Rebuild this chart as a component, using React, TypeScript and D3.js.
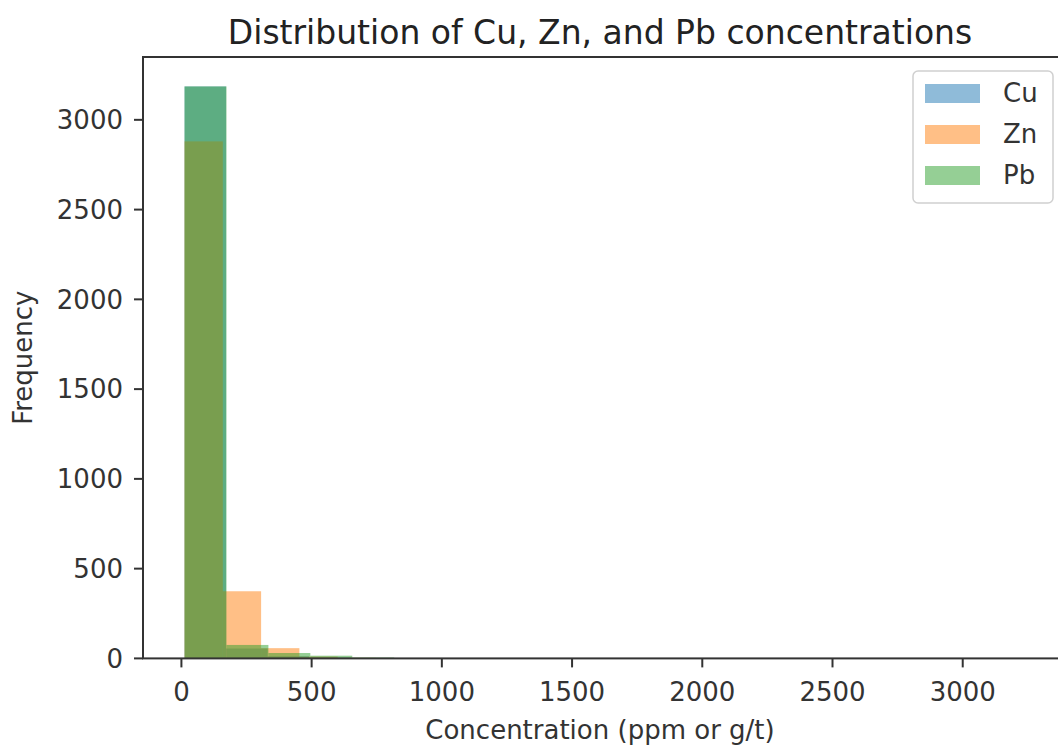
import React, { useRef, useEffect } from "react";
import * as d3 from "d3";

const width = 1058;
const height = 747;
const margin = { left: 143, right: 1057, top: 57, bottom: 658.4 };

// histogram bins: first edge, bin width, counts
const series = ["Cu", "Zn", "Pb"];
const colors = ["#1f77b4", "#ff7f0e", "#2ca02c"];
const binStart = [12, 12, 12];
const binWidth = [159.5, 147, 161];
const cuCounts = [3186, 55, 12, 4, 2, 1];
const znCounts = [2880, 374, 57, 10, 3, 1];
const pbCounts = [3186, 75, 30, 15, 5, 2, 1];
const counts = [cuCounts, znCounts, pbCounts];

const xTicks = [0, 500, 1000, 1500, 2000, 2500, 3000];
const yTicks = [0, 500, 1000, 1500, 2000, 2500, 3000];
const xDomain = [-147.5, 3362];
const yDomain = [0, 3350];

const font = "'DejaVu Sans', sans-serif";

export default function App() {
  const svgRef = useRef<SVGSVGElement>(null);

  useEffect(() => {
    const svg = d3.select(svgRef.current);
    svg.selectAll("*").remove();

    const x = d3.scaleLinear().domain(xDomain).range([margin.left, margin.right]);
    const y = d3.scaleLinear().domain(yDomain).range([margin.bottom, margin.top]);

    svg.append("rect").attr("width", width).attr("height", height).attr("fill", "#fff");

    // bars, drawn in matplotlib's order with alpha 0.5
    series.forEach((name, i) => {
      const bins = counts[i].map((c, j) => ({
        x0: binStart[i] + j * binWidth[i],
        x1: binStart[i] + (j + 1) * binWidth[i],
        c
      }));
      svg
        .append("g")
        .selectAll("rect")
        .data(bins)
        .enter()
        .append("rect")
        .attr("x", d => x(d.x0))
        .attr("width", d => x(d.x1) - x(d.x0))
        .attr("y", d => y(d.c))
        .attr("height", d => y(0) - y(d.c))
        .attr("fill", colors[i])
        .attr("fill-opacity", 0.5);
    });

    // spines (the right one falls just outside the cropped picture)
    svg
      .append("rect")
      .attr("x", margin.left)
      .attr("y", margin.top)
      .attr("width", margin.right + 4 - margin.left)
      .attr("height", margin.bottom - margin.top)
      .attr("fill", "none")
      .attr("stroke", "#333")
      .attr("stroke-width", 2);

    // x ticks
    const gx = svg.append("g");
    xTicks.forEach(t => {
      gx.append("line")
        .attr("x1", x(t)).attr("x2", x(t))
        .attr("y1", margin.bottom).attr("y2", margin.bottom + 9)
        .attr("stroke", "#333").attr("stroke-width", 2);
      gx.append("text")
        .attr("x", x(t)).attr("y", 701)
        .attr("text-anchor", "middle")
        .attr("font-family", font).attr("font-size", 26)
        .attr("fill", "#333")
        .text(t);
    });

    // y ticks
    const gy = svg.append("g");
    yTicks.forEach(t => {
      gy.append("line")
        .attr("x1", margin.left - 9).attr("x2", margin.left)
        .attr("y1", y(t)).attr("y2", y(t))
        .attr("stroke", "#333").attr("stroke-width", 2);
      gy.append("text")
        .attr("x", 123).attr("y", y(t))
        .attr("dy", "0.36em")
        .attr("text-anchor", "end")
        .attr("font-family", font).attr("font-size", 26)
        .attr("fill", "#333")
        .text(t);
    });

    // titles
    svg.append("text")
      .attr("x", (margin.left + margin.right) / 2).attr("y", 44)
      .attr("text-anchor", "middle")
      .attr("font-family", font).attr("font-size", 33)
      .attr("fill", "#222")
      .text("Distribution of Cu, Zn, and Pb concentrations");

    svg.append("text")
      .attr("x", (margin.left + margin.right) / 2).attr("y", 739)
      .attr("text-anchor", "middle")
      .attr("font-family", font).attr("font-size", 26)
      .attr("fill", "#333")
      .text("Concentration (ppm or g/t)");

    svg.append("text")
      .attr("transform", "translate(32," + (margin.top + margin.bottom) / 2 + ") rotate(-90)")
      .attr("text-anchor", "middle")
      .attr("font-family", font).attr("font-size", 26)
      .attr("fill", "#333")
      .text("Frequency");

    // legend
    const lg = svg.append("g").attr("transform", "translate(913,71)");
    lg.append("rect")
      .attr("width", 140).attr("height", 132)
      .attr("rx", 5)
      .attr("fill", "#fff").attr("fill-opacity", 0.8)
      .attr("stroke", "#d0d0d0").attr("stroke-width", 1.5);
    series.forEach((name, i) => {
      lg.append("rect")
        .attr("x", 12).attr("y", 13 + i * 41)
        .attr("width", 55).attr("height", 19)
        .attr("fill", colors[i]).attr("fill-opacity", 0.5);
      lg.append("text")
        .attr("x", 90).attr("y", 22 + i * 41)
        .attr("dy", "0.36em")
        .attr("font-family", font).attr("font-size", 26)
        .attr("fill", "#333")
        .text(name);
    });
  }, []);

  return (
    <svg
      ref={svgRef}
      width={width}
      height={height}
      style={{ position: "absolute", left: 0, top: 0 }}
    ></svg>
  );
}
